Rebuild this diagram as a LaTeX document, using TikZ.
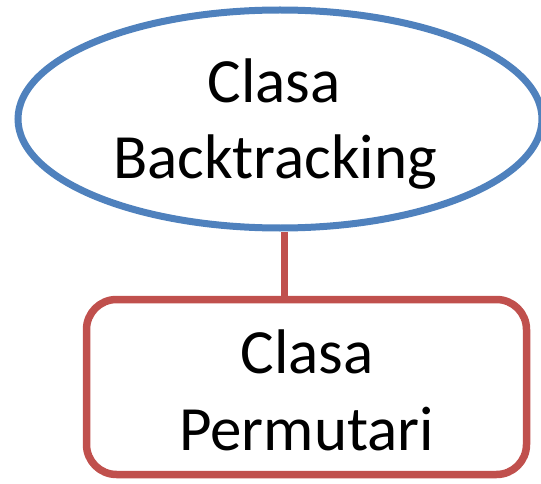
\documentclass[tikz,border=0pt]{standalone}
\usepackage{fontspec}
\setmainfont{Carlito}
\usetikzlibrary{shapes.geometric}
\definecolor{ofblue}{HTML}{4F81BD}
\definecolor{ofred}{HTML}{C0504D}
\tikzset{
  ellbox/.style={ellipse, draw=ofblue, line width=7pt, minimum width=524pt, minimum height=218pt, inner sep=0pt},
  rbox/.style={rectangle, draw=ofred, line width=7.5pt, rounded corners=30pt, minimum width=440pt, minimum height=175pt, inner sep=0pt},
  lbl/.style={anchor=base, inner sep=0pt, font=\fontsize{63pt}{76pt}\selectfont, text=black},
  conn/.style={draw=ofred, line width=7pt}
}
\begin{document}
\begin{tikzpicture}[x=1pt,y=1pt]
\useasboundingbox (0,0) rectangle (541,483);
\node[ellbox] (ell) at (280,364) {};
\node[rbox] (box) at (306.5,96) {};
\draw[conn] ([xshift=4pt]ell.south) -- ([xshift=-22.5pt]box.north);
\node[lbl] (t1) at (274,380) {Clasa};
\node[lbl] (t2) at (275,305) {Backtracking};
\node[lbl] (t3) at (307,110) {Clasa};
\node[lbl] (t4) at (306.5,33) {Permutari};
\end{tikzpicture}
\end{document}
